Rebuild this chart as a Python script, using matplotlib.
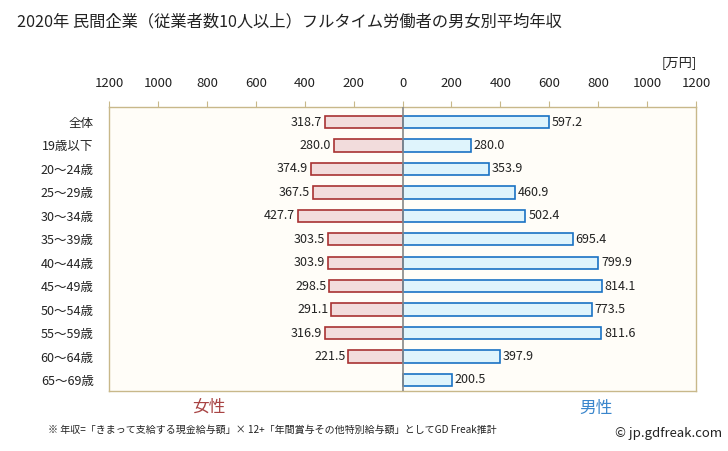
import matplotlib
matplotlib.use("Agg")
import matplotlib.pyplot as plt
import numpy as np

plt.rcParams['font.family'] = ['Noto Sans CJK JP', 'DejaVu Sans']

categories = ["全体", "19歳以下", "20〜24歳", "25〜29歳", "30〜34歳", "35〜39歳",
              "40〜44歳", "45〜49歳", "50〜54歳", "55〜59歳", "60〜64歳", "65〜69歳"]
female = [318.7, 280.0, 374.9, 367.5, 427.7, 303.5, 303.9, 298.5, 291.1, 316.9, 221.5, None]
male = [597.2, 280.0, 353.9, 460.9, 502.4, 695.4, 799.9, 814.1, 773.5, 811.6, 397.9, 200.5]
ticks = [-1200, -1000, -800, -600, -400, -200, 0, 200, 400, 600, 800, 1000, 1200]

W, H = 728, 451
fig = plt.figure(figsize=(W / 100, H / 100), dpi=100)
fig.patch.set_facecolor('white')
left, right, top, bottom = 109, 696, 107, 391
ax = fig.add_axes([left / W, 1 - bottom / H, (right - left) / W, (bottom - top) / H])
ax.set_facecolor('#fffdf8')

y = np.arange(len(categories))
bh = 0.53
for i, v in enumerate(female):
    if v is not None:
        ax.barh(i, -v, height=bh, color='#f2dcdc', edgecolor='#a83232', linewidth=1.2, zorder=2)
        ax.text(-v - 12, i, f"{v:.1f}", ha='right', va='center', fontsize=9, color='#222222')
for i, v in enumerate(male):
    if v is not None:
        ax.barh(i, v, height=bh, color='#dff4fc', edgecolor='#1a72c4', linewidth=1.2, zorder=2)
        ax.text(v + 12, i, f"{v:.1f}", ha='left', va='center', fontsize=9, color='#222222')

ax.axvline(0, color='#888888', linewidth=1.2, zorder=3)
ax.set_xlim(-1200, 1200)
ax.set_ylim(11.47, -0.64)
ax.set_yticks(y)
ax.set_yticklabels(categories, fontsize=9, color='#222222')
ax.tick_params(axis='y', length=0, pad=11)
ax.xaxis.tick_top()
ax.set_xticks(ticks)
ax.set_xticklabels([str(abs(t)) for t in ticks], fontsize=9.5, color='#222222')
ax.tick_params(axis='x', direction='out', length=4, color='#c8b88a', pad=8)
for s in ax.spines.values():
    s.set_color('#c8b88a')
    s.set_linewidth(1.0)

fig.text(17 / W, 1 - 22 / H, "2020年 民間企業（従業者数10人以上）フルタイム労働者の男女別平均年収",
         fontsize=11.7, ha='left', va='center', color='#222222')
fig.text(697 / W, 1 - 63 / H, "[万円]", fontsize=9.5, ha='right', va='center', color='#222222')
fig.text(209 / W, 1 - 407 / H, "女性", fontsize=12, ha='center', va='center', color='#a84444')
fig.text(596 / W, 1 - 408 / H, "男性", fontsize=12, ha='center', va='center', color='#3a86cc')
fig.text(48 / W, 1 - 430 / H, "※ 年収=「きまって支給する現金給与額」× 12+「年間賞与その他特別給与額」としてGD Freak推計",
         fontsize=7.2, ha='left', va='center', color='#222222')
fig.text(722 / W, 1 - 433 / H, "© jp.gdfreak.com", fontsize=9.5, ha='right', va='center', color='#222222')

fig.savefig("out.png", dpi=100, facecolor='white')
